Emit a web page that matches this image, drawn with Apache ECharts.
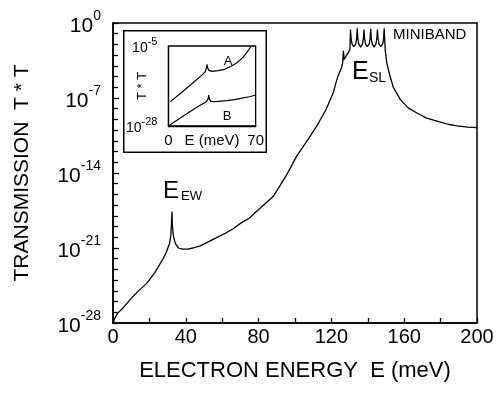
<!DOCTYPE html>
<html>
<head>
<meta charset="utf-8">
<script src="https://cdn.jsdelivr.net/npm/echarts@6/dist/echarts.min.js"></script>
<style>
  html, body { margin: 0; background: #fff; }
  #chart { width: 499px; height: 394px; position: absolute; left: 0; top: 0; }
  #inset { width: 144px; height: 123px; position: absolute; left: 123px; top: 30px; }
</style>
</head>
<body>
<div id="chart"></div>
<div id="inset"></div>
<script>
// main curve: electron energy (meV) and log10 of transmission T*T
const mainEnergy = [0.3, 0.8, 2.5, 6, 10, 14, 18.5, 23, 27.5, 29.5, 31, 31.8, 32.2, 32.4, 32.6, 33.2, 34.3, 36, 38, 41, 44, 48, 55, 62, 66, 70, 75, 80, 88, 95, 101, 107, 112, 117, 121, 123.5, 125.5, 126.2, 126.6, 127, 128, 129.5, 130.2,
  130.5, 130.8, 131.3, 132.35, 133.4, 133.9, 134.2, 134.5, 135.0, 136.05, 137.1, 137.6, 137.9, 138.2, 138.7, 139.75, 140.8, 141.3, 141.6, 141.9, 142.4, 143.45, 144.5, 145.0, 145.3, 145.6, 146.1, 147.15, 148.2, 148.7, 149.0,
  149.3, 149.6, 150.4, 152.2, 154, 157.7, 162, 167, 172, 178, 184, 189, 195, 200];
const mainLogT = [-28, -27.6, -27.1, -26.5, -25.7, -25.0, -24.3, -23.3, -22.0, -21.3, -20.6, -19.8, -18.5, -17.6, -18.8, -19.9, -20.6, -21.0, -21.1, -21.1, -21.0, -20.8, -20.2, -19.6, -19.2, -18.7, -18.2, -17.4, -16.2, -14.3, -12.4, -10.9, -9.6, -8.1, -6.5, -5.0, -4.2, -3.7, -2.6, -3.4, -3.1, -2.7, -2.4,
  -0.6, -1.4, -1.95, -2.2, -1.95, -1.4, -0.5, -1.4, -1.95, -2.25, -1.95, -1.4, -0.6, -1.4, -1.95, -2.2, -1.95, -1.4, -0.55, -1.4, -1.95, -2.25, -1.95, -1.4, -0.6, -1.4, -1.95, -2.2, -1.95, -1.4, -0.5,
  -1.6, -2.6, -3.7, -4.95, -6.0, -7.1, -7.9, -8.4, -8.85, -9.15, -9.45, -9.6, -9.72, -9.77];

// inset curves A and B
const insetEnergyA = [1.5, 10, 20, 27, 29.5, 30.4, 30.9, 31.4, 32.5, 35, 40, 45, 50, 55, 60, 64, 66.6];
const insetLogA = [-21.0, -18.5, -15.5, -13.3, -12.4, -11.4, -10.3, -11.3, -12.0, -12.3, -12.1, -11.7, -10.9, -9.8, -8.2, -6.3, -5.0];
const insetEnergyB = [1.2, 5, 15, 25, 30.5, 31.8, 32.3, 32.8, 34, 36, 40, 47, 53, 59, 65, 70];
const insetLogB = [-27.7, -26.8, -24.4, -22.1, -21.0, -20.2, -19.1, -20.2, -20.9, -21.0, -20.9, -20.7, -20.4, -20.0, -19.6, -19.1];

function zip(xs, ys) {
  return xs.map((x, i) => [x, ys[i]]);
}

const font = 'Liberation Sans, Arial, sans-serif';
const powLabel = v => '{b|10}{s|' + v + '}';

// main chart, one grid
const chart = echarts.init(document.getElementById('chart'));
chart.setOption({
  animation: false,
  textStyle: { fontFamily: font, color: '#000' },
  grid: { left: 113, right: 22, top: 23, bottom: 71, show: true, borderColor: '#000', borderWidth: 1.5 },
  xAxis: {
    type: 'value', min: 0, max: 200, interval: 40,
    name: 'ELECTRON ENERGY  E (meV)', nameLocation: 'middle', nameGap: 37, nameMoveOverlap: false,
    nameTextStyle: { fontSize: 22, color: '#000', fontFamily: font },
    axisLine: { show: true, onZero: false, lineStyle: { color: '#000', width: 1.5 } },
    axisTick: { show: true, inside: true, length: 5, lineStyle: { color: '#000', width: 1.3 } },
    minorTick: { show: true, splitNumber: 2, length: 5, lineStyle: { color: '#000', width: 1.3 } },
    axisLabel: { fontSize: 20, color: '#000', margin: 4, fontFamily: font },
    splitLine: { show: false }
  },
  yAxis: {
    type: 'value', min: -28, max: 0, interval: 7,
    name: 'TRANSMISSION  T * T', nameLocation: 'middle', nameGap: 80, nameMoveOverlap: false,
    nameTextStyle: { fontSize: 21, color: '#000', fontFamily: font },
    axisLine: { show: true, onZero: false, lineStyle: { color: '#000', width: 1.5 } },
    axisTick: { show: true, inside: true, length: 6, lineStyle: { color: '#000', width: 1.3 } },
    minorTick: { show: true, splitNumber: 7, length: 5, lineStyle: { color: '#000', width: 1.3 } },
    axisLabel: {
      margin: 12, formatter: powLabel,
      rich: {
        b: { fontSize: 21, color: '#000', fontFamily: font, verticalAlign: 'bottom' },
        s: { fontSize: 14, color: '#000', fontFamily: font, verticalAlign: 'bottom', padding: [0, 0, 13, 0] }
      }
    },
    splitLine: { show: false }
  },
  series: [{
    type: 'line', data: zip(mainEnergy, mainLogT),
    symbol: 'none', lineStyle: { color: '#000', width: 1.3 }
  }],
  graphic: [
    { type: 'text', x: 163, y: 191, style: { text: 'E', fontSize: 24, fontFamily: font, fill: '#000', verticalAlign: 'middle' } },
    { type: 'text', x: 181, y: 196, style: { text: 'EW', fontSize: 13, fontFamily: font, fill: '#000', verticalAlign: 'middle' } },
    { type: 'text', x: 352, y: 72, style: { text: 'E', fontSize: 25, fontFamily: font, fill: '#000', verticalAlign: 'middle' } },
    { type: 'text', x: 369, y: 78, style: { text: 'SL', fontSize: 14, fontFamily: font, fill: '#000', verticalAlign: 'middle' } },
    { type: 'text', x: 393, y: 35, style: { text: 'MINIBAND', fontSize: 15, fontFamily: font, fill: '#000', verticalAlign: 'middle' } }
  ]
});

// inset chart laid over the main plot
const inset = echarts.init(document.getElementById('inset'));
inset.setOption({
  animation: false,
  textStyle: { fontFamily: font, color: '#000' },
  grid: { left: 41, right: 5, top: 16, bottom: 25, show: true, borderColor: '#000', borderWidth: 1.3 },
  xAxis: {
    type: 'value', min: 0, max: 70, interval: 70,
    name: 'E (meV)', nameLocation: 'middle', nameGap: 7, nameMoveOverlap: false,
    nameTextStyle: { fontSize: 15, color: '#000', fontFamily: font },
    axisLine: { onZero: false, lineStyle: { color: '#000', width: 1.3 } },
    axisTick: { show: false },
    axisLabel: { fontSize: 15, color: '#000', margin: 7, fontFamily: font },
    splitLine: { show: false }
  },
  yAxis: {
    type: 'value', min: -28, max: -5, interval: 23,
    name: 'T * T', nameLocation: 'middle', nameGap: 20, nameMoveOverlap: false,
    nameTextStyle: { fontSize: 13, color: '#000', fontFamily: font },
    axisLine: { onZero: false, lineStyle: { color: '#000', width: 1.3 } },
    axisTick: { show: false },
    axisLabel: {
      margin: 11, formatter: powLabel,
      rich: {
        b: { fontSize: 14, color: '#000', fontFamily: font, verticalAlign: 'bottom' },
        s: { fontSize: 11, color: '#000', fontFamily: font, verticalAlign: 'bottom', padding: [0, 0, 8, 0] }
      }
    },
    splitLine: { show: false }
  },
  series: [
    { type: 'line', data: zip(insetEnergyA, insetLogA), symbol: 'none', lineStyle: { color: '#000', width: 1.2 } },
    { type: 'line', data: zip(insetEnergyB, insetLogB), symbol: 'none', lineStyle: { color: '#000', width: 1.2 } }
  ],
  graphic: [
    { type: 'rect', shape: { x: 0.75, y: 0.75, width: 142.5, height: 121.5 }, style: { fill: 'none', stroke: '#000', lineWidth: 1.5 } },
    { type: 'text', x: 105, y: 31, style: { text: 'A', fontSize: 13, fontFamily: font, fill: '#000', align: 'center', verticalAlign: 'middle' } },
    { type: 'text', x: 104, y: 86, style: { text: 'B', fontSize: 13, fontFamily: font, fill: '#000', align: 'center', verticalAlign: 'middle' } }
  ]
});
</script>
</body>
</html>
